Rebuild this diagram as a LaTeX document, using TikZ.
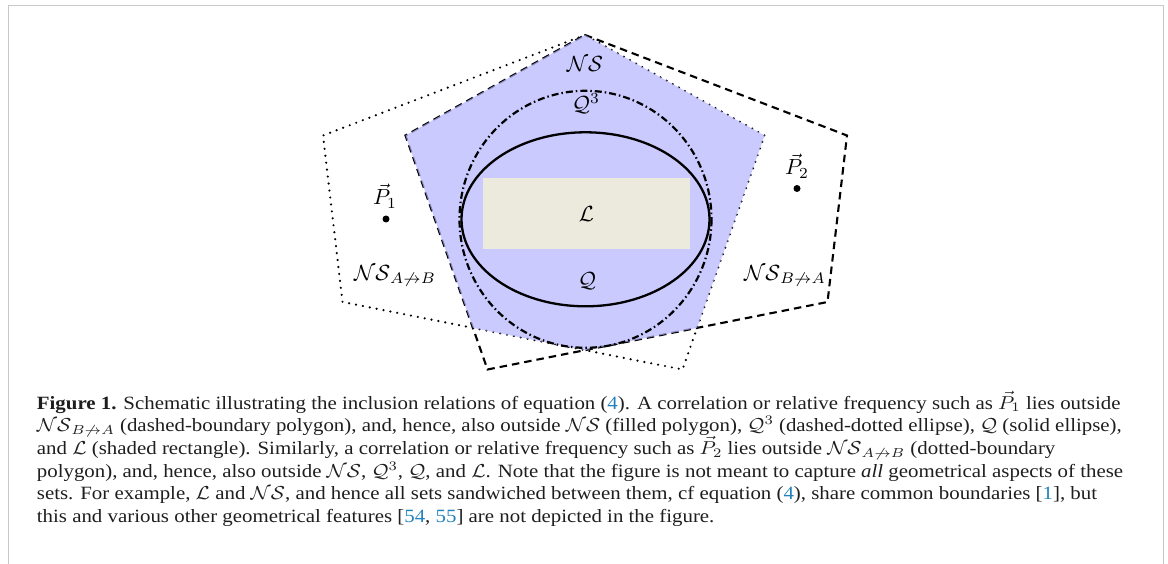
\documentclass[tikz,border=0pt]{standalone}
\usepackage{amsmath,amssymb}
\usepackage{fontspec}
\setmainfont{Liberation Serif}
\definecolor{nsblue}{RGB}{182,182,255}
\definecolor{lbeige}{RGB}{236,233,221}
\definecolor{framegray}{RGB}{200,200,200}
\definecolor{capgray}{RGB}{30,30,30}
\definecolor{linkblue}{RGB}{35,130,190}
\newcommand{\lk}[1]{\textcolor{linkblue}{#1}}
\tikzset{
  dotpoly/.style={line width=2.4bp, dash pattern=on 0bp off 7bp, line cap=round, line join=round},
  dashpoly/.style={line width=2.1bp, dash pattern=on 7.5bp off 5bp, line join=miter},
  nsfill/.style={fill=nsblue, fill opacity=0.72},
  lrect/.style={fill=lbeige},
  qthree/.style={line width=2.2bp, dash pattern=on 7bp off 3bp on 1.5bp off 3bp},
  qsolid/.style={line width=2.3bp},
  lbl/.style={font=\fontsize{10}{12}\selectfont, inner sep=0pt, scale=2.2},
  capline/.style={anchor=base west, inner sep=0pt, font=\fontsize{10}{12}\selectfont, text=capgray, xscale=2.095, yscale=1.88},
  pdot/.style={circle, fill=black, inner sep=0pt, minimum size=7bp},
  framebox/.style={draw=framegray, line width=1.6bp}
}
\begin{document}
\begin{tikzpicture}[x=1bp,y=-1bp]
\useasboundingbox (0,0) rectangle (1168,564);
% frame
\coordinate (fbl) at (8.3,564);
\coordinate (ftl) at (8.3,5.5);
\coordinate (ftr) at (1163.5,5.5);
\coordinate (fbr) at (1163.5,564);
\draw[framebox] (fbl) -- (ftl) -- (ftr) -- (fbr);
% polygon vertices
\coordinate (T) at (585,35);
\coordinate (dL) at (323,135.5);
\coordinate (dLL) at (342.5,302);
\coordinate (dB) at (682.5,369.5);
\coordinate (dUR) at (764.5,135.5);
\coordinate (sUR) at (847,135.5);
\coordinate (sLR) at (827.5,302);
\coordinate (sB) at (487.5,369.5);
\coordinate (sUL) at (405.5,135.5);
% polygons
\draw[dotpoly] (T) -- (dL) -- (dLL) -- (dB) -- (dUR) -- cycle;
\draw[dashpoly] (T) -- (sUR) -- (sLR) -- (sB) -- (sUL) -- cycle;
% NS = intersection
\begin{scope}
  \clip (T) -- (sUR) -- (sLR) -- (sB) -- (sUL) -- cycle;
  \fill[nsfill] (T) -- (dL) -- (dLL) -- (dB) -- (dUR) -- cycle;
\end{scope}
% L rectangle
\coordinate (Lnw) at (482.7,177.7);
\coordinate (Lse) at (690,249.3);
\fill[lrect] (Lnw) rectangle (Lse);
% ellipses
\coordinate (C) at (585.5,219.3);
\draw[qthree] (C) ellipse [x radius=126, y radius=128.5];
\draw[qsolid] (C) ellipse [x radius=124, y radius=87];
% labels
\node[lbl] (nsl) at (585,64) {$\mathcal{NS}$};
\node[lbl] (q3l) at (586,104) {$\mathcal{Q}^3$};
\node[lbl] (ll) at (586.5,214) {$\mathcal{L}$};
\node[lbl] (ql) at (587,281) {$\mathcal{Q}$};
\node[lbl] (p1l) at (385,196) {$\vec{P}_1$};
\node[pdot] (p1) at (386,219) {};
\node[lbl] (p2l) at (797,166) {$\vec{P}_2$};
\node[pdot] (p2) at (797,188.5) {};
\node[lbl] (nsab) at (395,276) {$\mathcal{NS}_{A\not\rightarrow B}$};
\node[lbl] (nsba) at (785,276) {$\mathcal{NS}_{B\not\rightarrow A}$};
% caption
\node[capline] (c1) at (36.5,409) {\textbf{Figure 1.} Schematic illustrating the inclusion relations of equation (\lk{4}). A correlation or relative frequency such as $\vec{P}_1$ lies outside};
\node[capline] (c2) at (36.5,431.7) {$\mathcal{NS}_{B\not\rightarrow A}$ (dashed-boundary polygon), and, hence, also outside $\mathcal{NS}$ (filled polygon), $\mathcal{Q}^3$ (dashed-dotted ellipse), $\mathcal{Q}$ (solid ellipse),};
\node[capline] (c3) at (36.5,454.4) {and $\mathcal{L}$ (shaded rectangle). Similarly, a correlation or relative frequency such as $\vec{P}_2$ lies outside $\mathcal{NS}_{A\not\rightarrow B}$ (dotted-boundary};
\node[capline] (c4) at (36.5,477.1) {polygon), and, hence, also outside $\mathcal{NS}$, $\mathcal{Q}^3$, $\mathcal{Q}$, and $\mathcal{L}$. Note that the figure is not meant to capture \emph{all} geometrical aspects of these};
\node[capline] (c5) at (36.5,499.8) {sets. For example, $\mathcal{L}$ and $\mathcal{NS}$, and hence all sets sandwiched between them, cf equation (\lk{4}), share common boundaries [\lk{1}], but};
\node[capline] (c6) at (36.5,522.5) {this and various other geometrical features [\lk{54}, \lk{55}] are not depicted in the figure.};
\end{tikzpicture}
\end{document}
